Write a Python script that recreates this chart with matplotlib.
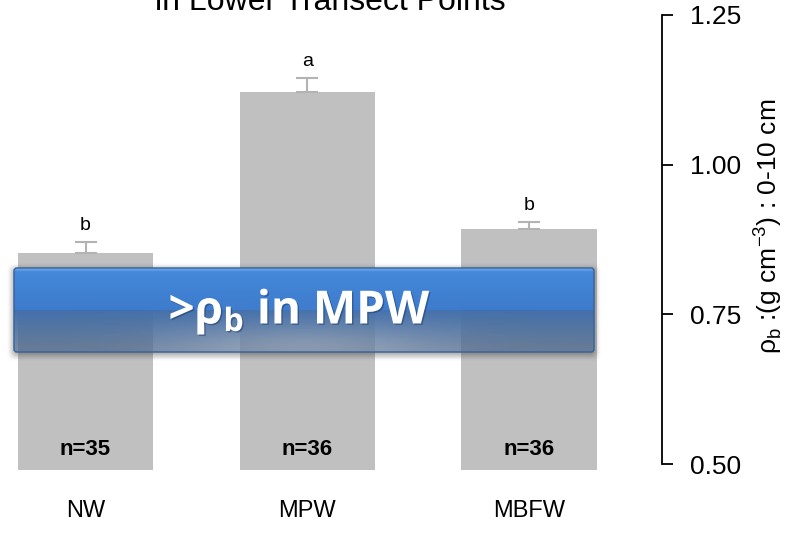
import numpy as np
import matplotlib
matplotlib.use("Agg")
from matplotlib import pyplot as plt
from matplotlib.patches import FancyBboxPatch
import matplotlib.patheffects as pe

plt.rcParams['font.family'] = ['Liberation Sans', 'DejaVu Sans']

# bulk density, lower transect points
cats = ['NW', 'MPW', 'MBFW']
means = [0.853, 1.122, 0.893]
se = [0.017, 0.023, 0.011]
letters = ['b', 'a', 'b']
nobs = [35, 36, 36]
yticks = [0.50, 0.75, 1.00, 1.25]

W, H = 800, 538
fig = plt.figure(figsize=(W/100, H/100), dpi=100)

# plot region in pixels: right axis at x=662, y from 15 (1.25) to 464 (0.50)
ax = fig.add_axes([0, 1-464/H, 662/W, (464-15)/H])
ax.set_ylim(0.5, 1.25)
ax.set_xlim(-0.3855, 2.599)

x = np.arange(len(cats))
ax.bar(x, np.array(means)-0.49, bottom=0.49, width=0.61, color='#c0c0c0',
       clip_on=False, zorder=1)
ax.errorbar(x, means, yerr=[np.zeros(3), se], fmt='none', ecolor='#b3b3b3',
            elinewidth=1.5, capsize=8, capthick=1.5, zorder=2)

for i in range(len(cats)):
    ax.annotate(letters[i], (x[i], means[i]+se[i]), xytext=(0, 6),
                textcoords='offset points', ha='center', va='bottom', fontsize=14)
    ax.text(x[i], 0.525, 'n={}'.format(nobs[i]), ha='center', va='center',
            fontsize=16, fontweight='bold')
    ax.text(x[i], 0.5-(511-464)/598.7, cats[i], ha='center', va='center',
            fontsize=17, clip_on=False)

for s in ['top', 'left', 'bottom']:
    ax.spines[s].set_visible(False)
ax.spines['right'].set_linewidth(1.3)
ax.set_xticks([])
ax.yaxis.tick_right()
ax.set_yticks(yticks)
ax.set_yticklabels(['{:.2f}'.format(t) for t in yticks])
ax.tick_params(axis='y', direction='out', length=8, width=1.3, labelsize=19, pad=12)

fig.text(768/W, 1-226/H, r'ρ$_\mathregular{b}$ :(g cm$^\mathregular{-3}$) : 0-10 cm',
         rotation=90, ha='center', va='center', fontsize=19)

# title, mostly cut off at the top
fig.text(330/W, 1-10/H, 'in Lower Transect Points', ha='center', va='baseline',
         fontsize=23)

# banner overlay in pixel coordinates
ov = fig.add_axes([0, 0, 1, 1], zorder=5)
ov.set_xlim(0, W)
ov.set_ylim(H, 0)
ov.axis('off')

bx0, bx1, by0, by1 = 14, 594, 268, 352

# soft shadow
sx = np.linspace(bx0-8, bx1+8, 300)
sy = np.linspace(by0-6, by1+10, 60)
def ramp(v, a, b, w):
    return np.clip((v-a)/w, 0, 1)*np.clip((b-v)/w, 0, 1)
sa = np.outer(ramp(sy, by0-5, by1+9, 8), ramp(sx, bx0-7, bx1+7, 8))
shadow = np.zeros((len(sy), len(sx), 4))
shadow[..., :3] = 0.25
shadow[..., 3] = 0.45*sa
ov.imshow(shadow, extent=[sx[0], sx[-1], sy[-1], sy[0]], aspect='auto',
          interpolation='bilinear', zorder=1)

# vertical gradient with a glow near the bottom
ny, nx = 84, 580
t = np.linspace(0, 1, ny)[:, None]
u = np.linspace(0, 1, nx)[None, :]
top = np.array([0.27, 0.54, 0.86])
mid = np.array([0.24, 0.48, 0.80])
low = np.array([0.26, 0.44, 0.68])
bot = np.array([0.33, 0.46, 0.63])
rgb = np.where(t[..., None] < 0.5,
               top + (mid-top)*(t[..., None]/0.5),
               low + (bot-low)*((t[..., None]-0.5)/0.5))
rgb = np.broadcast_to(rgb, (ny, nx, 3)).copy()
hi = np.clip(1-t/0.04, 0, 1)[..., None]
rgb = rgb + (np.array([0.55, 0.74, 0.95])-rgb)*hi*0.7
glow = np.exp(-((u-0.5)/0.2)**2 - ((t-1.0)/0.3)**2)[..., None]
rgb = rgb + (np.array([0.78, 0.84, 0.92])-rgb)*glow*0.5
alpha = np.where(t < 0.5, 1.0, 1.0-0.4*(t-0.5)/0.5)
alpha = np.broadcast_to(alpha, (ny, nx))
img = np.dstack([np.clip(rgb, 0, 1), alpha])

box = FancyBboxPatch((bx0, by0), bx1-bx0, by1-by0,
                     boxstyle='round,pad=0,rounding_size=3',
                     facecolor='none', edgecolor='#34619c', linewidth=1.0, zorder=3)
ov.add_patch(box)
im = ov.imshow(img, extent=[bx0, bx1, by1, by0], aspect='auto',
               interpolation='bilinear', zorder=2)
im.set_clip_path(box)

ov.text(300, 311, r'>ρ$_\mathregular{b}$ in MPW', ha='center', va='center',
        color='white', fontsize=33, fontweight='bold', family=['Open Sans', 'DejaVu Sans'],
        zorder=4,
        path_effects=[pe.withSimplePatchShadow(offset=(1, -1), shadow_rgbFace='#1d3a66', alpha=0.5)])

fig.savefig('out.png', dpi=100)
